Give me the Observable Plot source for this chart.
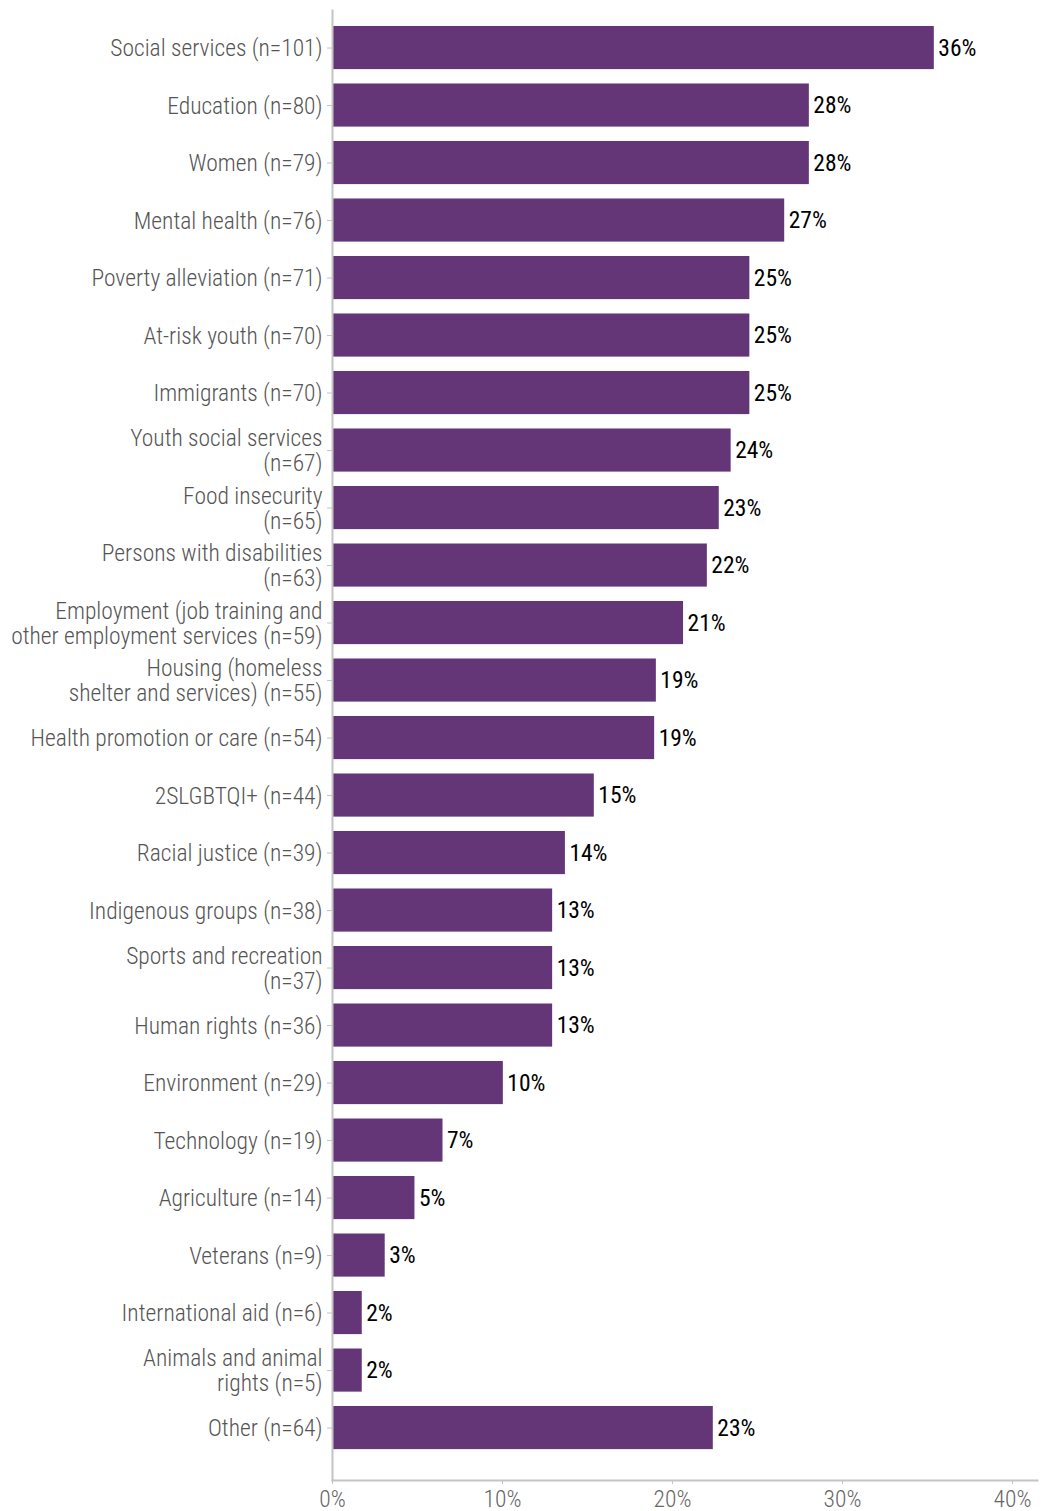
<!DOCTYPE html>
<html>
<head>
<meta charset="utf-8">
<script src="https://cdn.jsdelivr.net/npm/d3@7"></script>
<script src="https://cdn.jsdelivr.net/npm/@observablehq/plot@0.6"></script>
<style>
  html, body { margin: 0; padding: 0; background: #fff; }
  #chart { width: 1045px; height: 1511px; overflow: hidden; }
</style>
</head>
<body>
<div id="chart"></div>
<script>
const categories = [
  "Social services (n=101)",
  "Education (n=80)",
  "Women (n=79)",
  "Mental health (n=76)",
  "Poverty alleviation (n=71)",
  "At-risk youth (n=70)",
  "Immigrants (n=70)",
  "Youth social services\n(n=67)",
  "Food insecurity\n(n=65)",
  "Persons with disabilities\n(n=63)",
  "Employment (job training and\nother employment services (n=59)",
  "Housing (homeless\nshelter and services) (n=55)",
  "Health promotion or care (n=54)",
  "2SLGBTQI+ (n=44)",
  "Racial justice (n=39)",
  "Indigenous groups (n=38)",
  "Sports and recreation\n(n=37)",
  "Human rights (n=36)",
  "Environment (n=29)",
  "Technology (n=19)",
  "Agriculture (n=14)",
  "Veterans (n=9)",
  "International aid (n=6)",
  "Animals and animal\nrights (n=5)",
  "Other (n=64)"
];
const values = [35.4, 28.05, 28.05, 26.6, 24.55, 24.55, 24.55, 23.45, 22.75, 22.05, 20.65, 19.05, 18.95, 15.4, 13.7, 12.95, 12.95, 12.95, 10.05, 6.5, 4.85, 3.1, 1.75, 1.75, 22.4];
const valueLabels = ["36%", "28%", "28%", "27%", "25%", "25%", "25%", "24%", "23%", "22%", "21%", "19%", "19%", "15%", "14%", "13%", "13%", "13%", "10%", "7%", "5%", "3%", "2%", "2%", "23%"];
const xTicks = [0, 10, 20, 30, 40];

const FONT = '"Roboto Condensed", "Liberation Sans Narrow", Roboto, sans-serif';
const data = categories.map((c, i) => ({label: c, value: values[i], text: valueLabels[i]}));

const chart = Plot.plot({
  width: 1045,
  height: 1511,
  marginLeft: 332,
  marginRight: 8,
  marginTop: 10,
  marginBottom: 31,
  style: {fontFamily: FONT, fontSize: "23.5px", background: "white", overflow: "visible"},
  x: {domain: [0, 40], insetRight: 25},
  y: {domain: categories, padding: 0.25, round: false, insetTop: 1.6, insetBottom: 16.5},
  marks: [
    Plot.barX(data, {x: "value", y: "label", fill: "#643678"}),
    Plot.text(data, {x: "value", y: "label", text: "text", textAnchor: "start", dx: 4, fill: "#000", fontSize: 23.5}),
    Plot.axisY({tickSize: 5, tickPadding: 5, stroke: "#c4c4c4", fill: "#555", fontWeight: 300, fontSize: 23.5, lineHeight: 1.07, label: null}),
    Plot.axisX(xTicks, {tickSize: 4, tickPadding: 6, stroke: "#c4c4c4", fill: "#666", fontWeight: 300, fontSize: 23.5, label: null, tickFormat: d => d + "%"}),
    Plot.frame({anchor: "left", stroke: "#c4c4c4", strokeWidth: 2}),
    Plot.frame({anchor: "bottom", stroke: "#c4c4c4", strokeWidth: 2})
  ]
});
document.getElementById("chart").appendChild(chart);
</script>
</body>
</html>
